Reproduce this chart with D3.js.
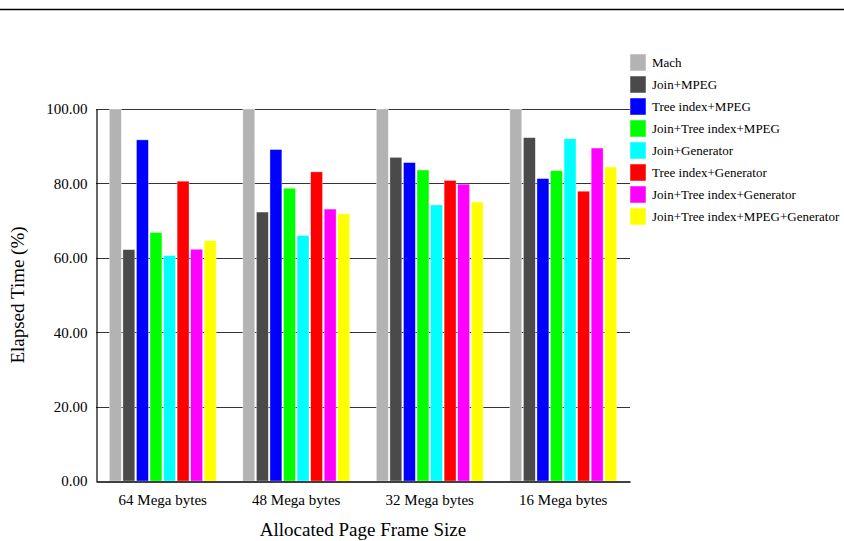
<!DOCTYPE html>
<html>
<head>
<meta charset="utf-8">
<script src="https://cdn.jsdelivr.net/npm/d3@7"></script>
<style>
  body { margin: 0; background: #fff; }
  svg, svg text { font-family: "Liberation Serif", "Times New Roman", serif !important; }
</style>
</head>
<body>
<div id="chart"></div>
<script>
// chart data
var categories = ["64 Mega bytes", "48 Mega bytes", "32 Mega bytes", "16 Mega bytes"];
var seriesNames = ["Mach", "Join+MPEG", "Tree index+MPEG", "Join+Tree index+MPEG",
    "Join+Generator", "Tree index+Generator", "Join+Tree index+Generator",
    "Join+Tree index+MPEG+Generator"];
var seriesColors = ["#b3b3b3", "#4a4a4a", "#0000ff", "#00ff00", "#00ffff", "#ff0000", "#ff00ff", "#ffff00"];
var mach          = [100, 100, 100, 100];
var joinMpeg      = [62.2, 72.3, 87.0, 92.3];
var treeMpeg      = [91.7, 89.1, 85.6, 81.3];
var joinTreeMpeg  = [66.8, 78.7, 83.6, 83.4];
var joinGen       = [60.6, 66.0, 74.2, 92.0];
var treeGen       = [80.6, 83.1, 80.8, 77.9];
var joinTreeGen   = [62.3, 73.1, 79.8, 89.5];
var allFour       = [64.6, 71.8, 75.0, 84.4];
var yTicks = [0, 20, 40, 60, 80, 100];

var seriesValues = [mach, joinMpeg, treeMpeg, joinTreeMpeg, joinGen, treeGen, joinTreeGen, allFour];

var width = 844, height = 541;
var plot = { left: 96, right: 630, top: 109, bottom: 481 };

var svg = d3.select("#chart").append("svg")
    .attr("width", width)
    .attr("height", height);

// top rule
svg.append("line")
    .attr("x1", 0).attr("x2", width)
    .attr("y1", 9.5).attr("y2", 9.5)
    .attr("stroke", "#000")
    .attr("stroke-width", 1.6);

var x0 = d3.scaleBand()
    .domain(categories)
    .range([plot.left, plot.right])
    .padding(0);

var x1 = d3.scaleBand()
    .domain(seriesNames)
    .range([0, x0.bandwidth()])
    .paddingInner(0.12)
    .paddingOuter(0.985);

var y = d3.scaleLinear()
    .domain([0, 100])
    .range([plot.bottom, plot.top]);

var color = d3.scaleOrdinal().domain(seriesNames).range(seriesColors);

// grid lines
svg.append("g")
    .selectAll("line")
    .data(yTicks.slice(1))
    .enter().append("line")
    .attr("x1", plot.left).attr("x2", plot.right)
    .attr("y1", function(d) { return Math.round(y(d)) + 0.5; })
    .attr("y2", function(d) { return Math.round(y(d)) + 0.5; })
    .attr("stroke", "#333")
    .attr("stroke-width", 1);

// bars
var rows = categories.map(function(c, i) {
    return { cat: c, vals: seriesNames.map(function(s, j) { return { key: s, value: seriesValues[j][i] }; }) };
});

svg.append("g")
    .selectAll("g")
    .data(rows)
    .enter().append("g")
    .attr("transform", function(d) { return "translate(" + x0(d.cat) + ",0)"; })
    .selectAll("rect")
    .data(function(d) { return d.vals; })
    .enter().append("rect")
    .attr("x", function(d) { return x1(d.key); })
    .attr("y", function(d) { return y(d.value); })
    .attr("width", x1.bandwidth())
    .attr("height", function(d) { return y(0) - y(d.value); })
    .attr("fill", function(d) { return color(d.key); })
    .attr("stroke", "rgba(255,255,255,0.6)")
    .attr("stroke-width", 0.6);

// y axis
var yAxis = svg.append("g")
    .attr("transform", "translate(" + (plot.left + 0.5) + ",0)")
    .call(d3.axisLeft(y).tickValues(yTicks).tickSize(0).tickPadding(9)
        .tickFormat(d3.format(".2f")));
yAxis.attr("font-size", 15);
yAxis.select(".domain").attr("stroke", "#000").attr("stroke-width", 1.2);
yAxis.selectAll("text").attr("fill", "#000");

// x axis
var xAxis = svg.append("g")
    .attr("transform", "translate(0," + (plot.bottom + 0.5) + ")")
    .call(d3.axisBottom(x0).tickSize(0).tickPadding(13));
xAxis.attr("font-size", 15);
xAxis.select(".domain").attr("stroke", "#000").attr("stroke-width", 1.5);
xAxis.selectAll("text").attr("fill", "#000");

// axis titles
svg.append("text")
    .attr("x", (plot.left + plot.right) / 2)
    .attr("y", 536)
    .attr("text-anchor", "middle")
    .attr("font-size", 19)
    .text("Allocated Page Frame Size");

svg.append("text")
    .attr("transform", "translate(24," + ((plot.top + plot.bottom) / 2) + ") rotate(-90)")
    .attr("text-anchor", "middle")
    .attr("font-size", 19)
    .text("Elapsed Time (%)");

// legend
var legend = svg.append("g")
    .selectAll("g")
    .data(seriesNames)
    .enter().append("g")
    .attr("transform", function(d, i) { return "translate(630," + (54 + i * 22) + ")"; });

legend.append("rect")
    .attr("width", 16)
    .attr("height", 17)
    .attr("fill", color)
    .attr("stroke", "rgba(255,255,255,0.6)")
    .attr("stroke-width", 0.8);

legend.append("text")
    .attr("x", 22)
    .attr("y", 8.5)
    .attr("dy", "0.35em")
    .attr("font-size", 13)
    .text(function(d) { return d; });
</script>
</body>
</html>
